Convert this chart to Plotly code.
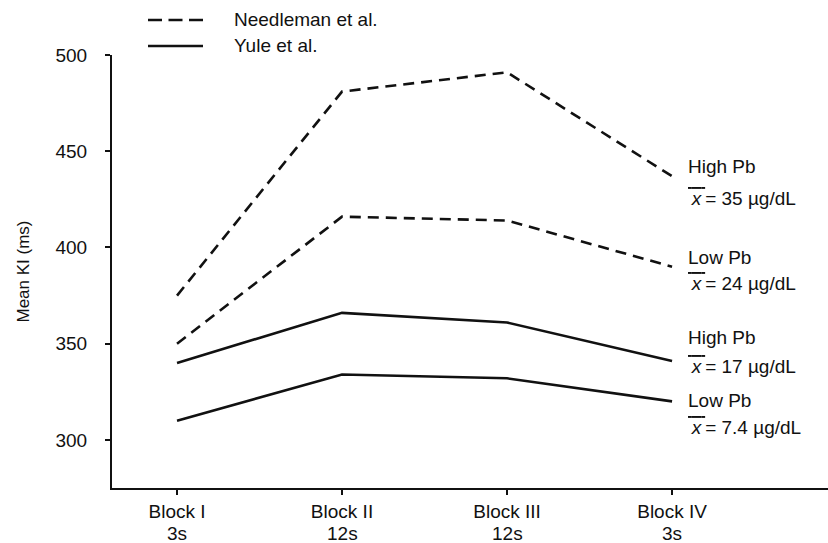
import plotly.graph_objects as go

# Blocks of the task and the delay used in each
blocks = ["Block I", "Block II", "Block III", "Block IV"]
delays = ["3s", "12s", "12s", "3s"]
block_pos = [0, 1, 2, 3]

# Mean KI (ms) per block
needleman_high = [375, 481, 491, 437]
needleman_low = [350, 416, 414, 390]
yule_high = [340, 366, 361, 341]
yule_low = [310, 334, 332, 320]

# Group labels at the right end of each line
group_names = ["High Pb", "Low Pb", "High Pb", "Low Pb"]
group_means = ["35 µg/dL", "24 µg/dL", "17 µg/dL", "7.4 µg/dL"]
name_y = [442, 395, 353, 320.5]
mean_y = [425.5, 381.5, 338, 306.5]

FONT = "Liberation Sans, Arial, sans-serif"
INK = "#111111"
FS = 19

fig = go.Figure()

series = [
    (needleman_high, "dash"),
    (needleman_low, "dash"),
    (yule_high, "solid"),
    (yule_low, "solid"),
]
for vals, dash in series:
    fig.add_trace(go.Scatter(
        x=block_pos, y=vals, mode="lines",
        line=dict(color=INK, width=2.6, dash="11px,7px" if dash == "dash" else "solid"),
        showlegend=False, hoverinfo="skip",
    ))

# Right-hand group labels (mean with an overbar)
for nm, mn, ny, my in zip(group_names, group_means, name_y, mean_y):
    fig.add_annotation(x=3.085, y=ny, xref="x", yref="y", text=nm, showarrow=False,
                       xanchor="left", yanchor="middle",
                       font=dict(family=FONT, size=FS, color=INK))
    fig.add_annotation(x=3.085, y=my, xref="x", yref="y",
                       text="<span style='text-decoration:overline'>\u2009<i>x</i>\u2009</span>= " + mn,
                       showarrow=False, xanchor="left", yanchor="middle",
                       font=dict(family=FONT, size=FS, color=INK))

# Delay row under the block labels
fig.add_annotation(x=-0.85, y=-0.105, xref="x", yref="paper", text="Delay:", showarrow=False,
                   xanchor="left", yanchor="middle", font=dict(family=FONT, size=FS, color=INK))
for bx, d in zip(block_pos, delays):
    fig.add_annotation(x=bx, y=-0.105, xref="x", yref="paper", text=d, showarrow=False,
                       xanchor="center", yanchor="middle",
                       font=dict(family=FONT, size=FS, color=INK))

# Legend drawn above the plot
legend_items = [("Needleman et al.", "dash"), ("Yule et al.", "solid")]
for i, (label, dash) in enumerate(legend_items):
    ypix = 20 + i * 26
    yp = 1 + (55 - ypix) / 433
    fig.add_shape(type="line", xref="paper", yref="paper",
                  x0=(148 - 112) / 716, x1=(203 - 112) / 716, y0=yp, y1=yp,
                  line=dict(color=INK, width=2.4, dash="14px,6.5px" if dash == "dash" else "solid"))
    fig.add_annotation(x=(232 - 112) / 716, y=yp, xref="paper", yref="paper", text=label,
                       showarrow=False, xanchor="left", yanchor="middle",
                       font=dict(family=FONT, size=FS, color=INK))

fig.update_layout(
    width=828, height=543,
    margin=dict(l=112, r=0, t=55, b=55),
    paper_bgcolor="white", plot_bgcolor="white",
    font=dict(family=FONT, size=FS, color=INK),
    showlegend=False,
)
fig.update_xaxes(
    range=[-0.394, 3.945], tickvals=block_pos, ticktext=blocks,
    showgrid=False, zeroline=False, showline=True, linecolor=INK, linewidth=2,
    ticks="outside", ticklen=5, tickwidth=1.5, tickcolor=INK,
    tickfont=dict(family=FONT, size=FS, color=INK),
)
fig.update_yaxes(
    range=[275, 500], tickvals=[300, 350, 400, 450, 500],
    showgrid=False, zeroline=False, showline=True, linecolor=INK, linewidth=2,
    ticks="outside", ticklen=5, tickwidth=1.5, tickcolor=INK, ticklabelstandoff=14,
    tickfont=dict(family=FONT, size=FS, color=INK),
    title=dict(text="Mean KI (ms)", font=dict(family=FONT, size=17, color=INK), standoff=22),
)

fig.write_html("out.html")
